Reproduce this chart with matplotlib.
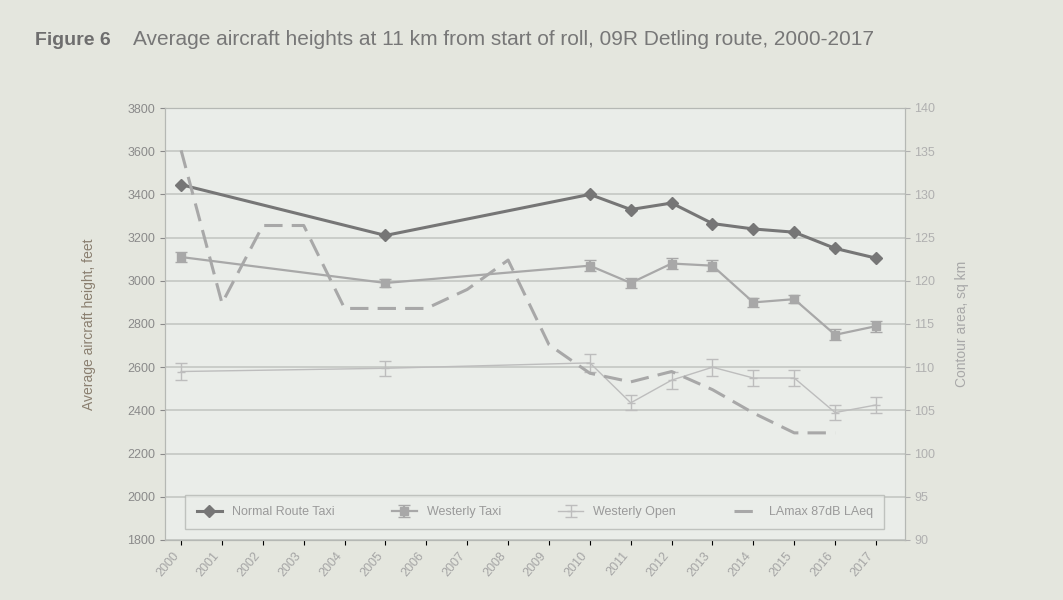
import numpy as np
import matplotlib
matplotlib.use('Agg')
import matplotlib.pyplot as plt

plt.rcParams['font.family'] = ['Liberation Sans', 'DejaVu Sans']

years = list(range(2000, 2018))
survey_years = [2000, 2005, 2010, 2011, 2012, 2013, 2014, 2015, 2016, 2017]

# left axis, feet
normal_taxi = [3445, 3210, 3400, 3330, 3360, 3265, 3240, 3225, 3150, 3105]
westerly_taxi = [3110, 2990, 3070, 2990, 3080, 3070, 2900, 2915, 2750, 2790]
westerly_taxi_err = [25, 20, 25, 25, 25, 25, 20, 20, 25, 25]
westerly_open = [2580, 2595, 2620, 2435, 2540, 2600, 2550, 2550, 2390, 2425]
westerly_open_err = [40, 35, 40, 35, 40, 40, 35, 35, 35, 35]

# right axis, contour area sq km (2000-2016)
contour_area = [135.1, 117.4, 126.4, 126.4, 116.8, 116.8, 116.8, 119.0, 122.4,
                112.6, 109.3, 108.3, 109.5, 107.4, 104.7, 102.4, 102.4, np.nan]

fig = plt.figure(figsize=(10.63, 6.0), dpi=100)
fig.patch.set_facecolor('#e4e6de')
ax = fig.add_axes([0.155, 0.10, 0.696, 0.72])
ax.set_facecolor('#eaede9')

l1, = ax.plot(survey_years, normal_taxi, color='#767676', lw=2.2, marker='D', ms=6,
              label='Normal Route Taxi', zorder=4)
l2 = ax.errorbar(survey_years, westerly_taxi, yerr=westerly_taxi_err, color='#a8a8a8', lw=1.6,
                 marker='s', ms=6, capsize=4, label='Westerly Taxi', zorder=3)
l3 = ax.errorbar(survey_years, westerly_open, yerr=westerly_open_err, color='#bdbdbd', lw=1.0,
                 marker='_', ms=6, capsize=4, label='Westerly Open', zorder=3)

ax.set_ylim(1800, 3800)
ax.set_yticks(range(1800, 3801, 200))
ax.set_xlim(1999.6, 2017.7)
ax.set_xticks(years)
ax.set_xticklabels([str(y) for y in years], rotation=50, ha='right', fontsize=9, color='#a5a5a5')
ax.tick_params(axis='y', labelsize=9, colors='#8a8a8a')
ax.grid(axis='y', color='#c4c7c3', lw=1.2)
ax.set_axisbelow(True)
ax.set_ylabel('Average aircraft height, feet', fontsize=10, color='#8a7f70', labelpad=22)
for s in ax.spines.values():
    s.set_color('#b5b8b4')

ax2 = ax.twinx()
l4, = ax2.plot(years, contour_area, color='#a8a8a8', lw=2.2, ls=(0, (6, 3)),
               label='LAmax 87dB LAeq', zorder=2)
ax2.set_ylim(90, 140)
ax2.set_yticks(range(90, 141, 5))
ax2.tick_params(axis='y', labelsize=9, colors='#b0b0b0')
ax2.set_ylabel('Contour area, sq km', fontsize=10, color='#a8a8a8', labelpad=14)
for s in ax2.spines.values():
    s.set_color('#b5b8b4')

leg = ax.legend([l1, l2, l3, l4], [l1.get_label(), 'Westerly Taxi', 'Westerly Open', l4.get_label()],
                loc='lower center', ncol=4, fontsize=9, frameon=True, fancybox=False,
                edgecolor='#b5b8b4', facecolor='#eaede9', columnspacing=4.6, borderpad=0.9,
                bbox_to_anchor=(0.5, 0.01))
for t in leg.get_texts():
    t.set_color('#9a9a9a')

fig.text(0.033, 0.925, 'Figure 6', fontsize=14, fontweight='bold', color='#6e6e6e')
fig.text(0.125, 0.925, 'Average aircraft heights at 11 km from start of roll, 09R Detling route, 2000-2017',
         fontsize=15, color='#777777')

fig.savefig('out.png', dpi=100, facecolor=fig.get_facecolor())
